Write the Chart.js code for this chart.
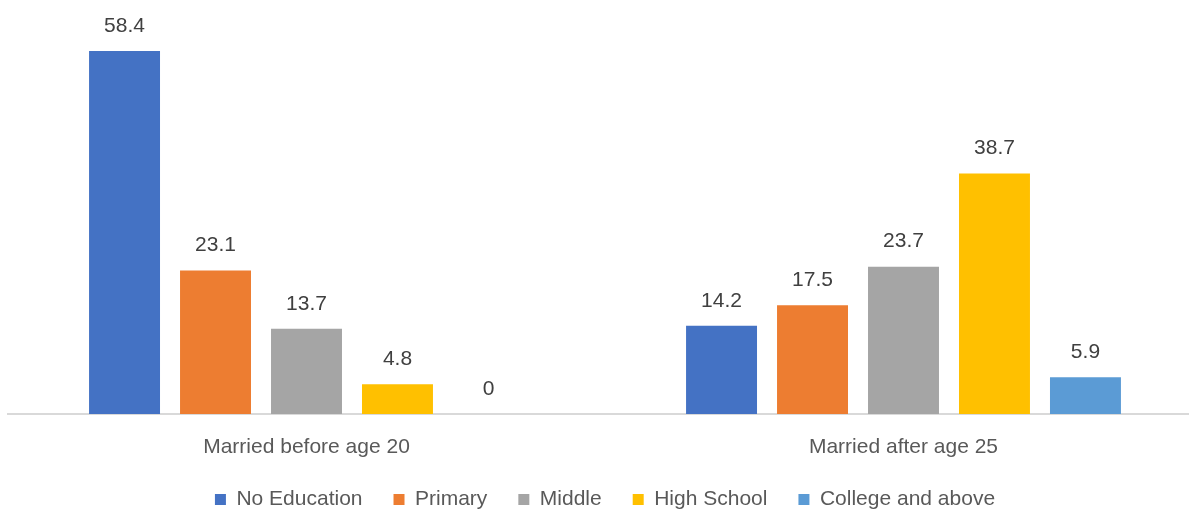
<!DOCTYPE html>
<html>
<head>
<meta charset="utf-8">
<script src="https://cdn.jsdelivr.net/npm/chart.js@4"></script>
<style>
    html, body { margin: 0; padding: 0; background: #fff; overflow: hidden; }
    #wrap { width: 1202px; height: 520px; }
</style>
</head>
<body>
<div id="wrap"><canvas id="chart"></canvas></div>
<script>
// ===== DATA =====
const categories = ['Married before age 20', 'Married after age 25'];
const seriesNames = ['No Education', 'Primary', 'Middle', 'High School', 'College and above'];
const noEducation = [58.4, 14.2];
const primary = [23.1, 17.5];
const middle = [13.7, 23.7];
const highSchool = [4.8, 38.7];
const collegeAbove = [0, 5.9];
const seriesColors = ['#4472C4', '#ED7D31', '#A5A5A5', '#FFC000', '#5B9BD5'];

const FONT = "'Liberation Sans', Arial, sans-serif";

// Draw value labels above each bar
const valueLabels = {
    id: 'valueLabels',
    afterDatasetsDraw(chart) {
        const ctx = chart.ctx;
        ctx.save();
        ctx.font = '21px ' + FONT;
        ctx.fillStyle = '#404040';
        ctx.textAlign = 'center';
        ctx.textBaseline = 'middle';
        chart.data.datasets.forEach((ds, i) => {
            chart.getDatasetMeta(i).data.forEach((bar, j) => {
                ctx.fillText(String(ds.data[j]), bar.x, bar.y - 25);
            });
        });
        ctx.restore();
    }
};

const allSeries = [noEducation, primary, middle, highSchool, collegeAbove];

new Chart(document.getElementById('chart'), {
    type: 'bar',
    data: {
        labels: categories,
        datasets: allSeries.map((values, i) => ({
            label: seriesNames[i],
            data: values,
            backgroundColor: seriesColors[i],
            barPercentage: 0.78,
            categoryPercentage: 0.762
        }))
    },
    options: {
        responsive: true,
        maintainAspectRatio: false,
        animation: false,
        layout: { padding: { top: 41, left: 8, right: 0, bottom: 0 } },
        plugins: {
            tooltip: { enabled: false },
            legend: {
                display: true,
                position: 'bottom',
                labels: {
                    color: '#595959',
                    boxWidth: 11,
                    boxHeight: 11,
                    padding: 31,
                    font: { size: 21, family: FONT }
                }
            }
        },
        scales: {
            x: {
                grid: { display: false, drawTicks: false },
                border: { display: true, color: '#D9D9D9', width: 2 },
                ticks: { color: '#595959', padding: 21, font: { size: 21, family: FONT } },
                afterFit(scale) { scale.height = 44; }
            },
            y: {
                display: false,
                min: 0,
                max: 60
            }
        }
    },
    plugins: [valueLabels]
});
</script>
</body>
</html>
